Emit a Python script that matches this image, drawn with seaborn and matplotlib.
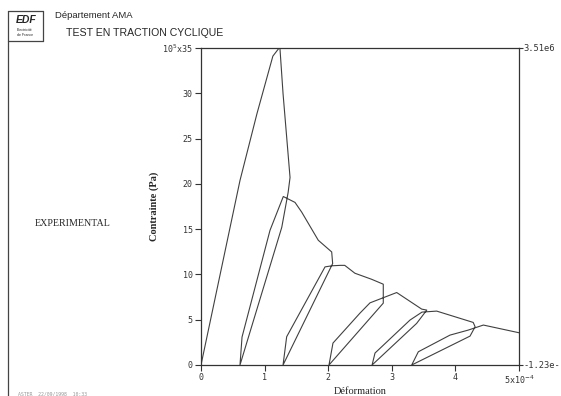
import matplotlib
matplotlib.use("Agg")
import matplotlib.pyplot as plt
from matplotlib.lines import Line2D
import seaborn as sns
import pandas as pd

# ---- data (strain in 1e-4, stress in 1e5 Pa) ----
cycle1_strain = [0.0, 0.613, 0.88, 1.13, 1.24, 1.29, 1.40, 1.37, 1.27, 0.613]
cycle1_stress = [0.0, 20.37, 27.75, 34.1, 35.1, 29.96, 20.7, 19.05, 15.2, 0.0]
cycle2_strain = [0.613, 0.645, 1.085, 1.294, 1.478, 1.583, 1.844, 2.055, 2.07, 1.29]
cycle2_stress = [0.0, 3.08, 14.87, 18.6, 17.95, 16.88, 13.77, 12.48, 11.2, 0.0]
cycle3_strain = [1.29, 1.347, 1.95, 2.055, 2.19, 2.26, 2.42, 2.68, 2.866, 2.866, 2.0125]
cycle3_stress = [0.0, 3.12, 10.83, 10.95, 11.0, 11.0, 10.13, 9.47, 8.92, 6.83, 0.0]
cycle4_strain = [2.0125, 2.075, 2.5, 2.657, 3.077, 3.47, 3.55, 3.39, 2.69]
cycle4_stress = [0.0, 2.42, 5.73, 6.86, 8.0, 6.17, 6.06, 4.59, 0.0]
cycle5_strain = [2.69, 2.736, 3.286, 3.475, 3.706, 4.28, 4.31, 4.23, 3.313]
cycle5_stress = [0.0, 1.32, 4.96, 5.84, 5.95, 4.7, 4.22, 3.19, 0.0]
cycle6_strain = [3.313, 3.417, 3.915, 4.2, 4.44, 5.0]
cycle6_stress = [0.0, 1.46, 3.3, 3.85, 4.41, 3.56]

x_ticks = [0, 1, 2, 3, 4, 5]
x_ticklabels = ["0", "1", "2", "3", "4", "5x10$^{-4}$"]
y_ticks = [0, 5, 10, 15, 20, 25, 30, 35]
y_ticklabels = ["0", "5", "10", "15", "20", "25", "30", "10$^5$x35"]
right_ticklabels = ["-1.23e-", "3.51e6"]

strains = [cycle1_strain, cycle2_strain, cycle3_strain, cycle4_strain, cycle5_strain, cycle6_strain]
stresses = [cycle1_stress, cycle2_stress, cycle3_stress, cycle4_stress, cycle5_stress, cycle6_stress]
xs, ys = [], []
for s, t in zip(strains, stresses):
    xs.extend(s)
    ys.extend(t)
df = pd.DataFrame({"Déformation": xs, "Contrainte": ys})

sns.set_style("white")
plt.rcParams["font.family"] = ["DejaVu Sans"]

W, H = 561, 396
fig = plt.figure(figsize=(W / 100, H / 100), dpi=100)
L, R, T, B = 201, 519, 47.5, 365
ax = fig.add_axes([L / W, (H - B) / H, (R - L) / W, (B - T) / H])

sns.lineplot(data=df, x="Déformation", y="Contrainte", sort=False, estimator=None,
             color="#404040", linewidth=0.8, ax=ax)
ax.set_xlim(0, 5)
ax.set_ylim(0, 35.05)

mono = "DejaVu Sans Mono"
ax.set_xticks(x_ticks)
ax.set_xticklabels(x_ticklabels, family=mono, fontsize=6)
ax.set_yticks(y_ticks)
ax.set_yticklabels(y_ticklabels, family=mono, fontsize=6)
ax.tick_params(axis="both", direction="out", length=4, width=0.8, color="#333333",
               pad=2, left=True, bottom=True, labelcolor="#333333")
ax.set_xlabel("Déformation", family="Liberation Serif", fontsize=7.5, labelpad=1)
ax.set_ylabel("Contrainte (Pa)", family="Liberation Serif", fontsize=7.5,
              fontweight="bold", labelpad=2)
for sp in ax.spines.values():
    sp.set_visible(True)
    sp.set_color("#333333")
    sp.set_linewidth(0.9)

ax2 = ax.twinx()
ax2.set_ylim(ax.get_ylim())
ax2.set_yticks([0, 35.05])
ax2.set_yticklabels(right_ticklabels, family=mono, fontsize=6.3, color="#333333")
ax2.tick_params(axis="y", direction="out", length=3, width=0.8, color="#333333", pad=0.5, right=True)
ax2.grid(False)
for sp in ax2.spines.values():
    sp.set_visible(False)

def fx(px):
    return px / W

def fy(py):
    return 1 - py / H

# frame lines
fig.add_artist(Line2D([fx(8), fx(8)], [fy(11), fy(396)], color="#444444", lw=0.9))
fig.add_artist(Line2D([fx(8), fx(43)], [fy(11), fy(11)], color="#444444", lw=0.9))
fig.add_artist(Line2D([fx(43), fx(43)], [fy(11), fy(41)], color="#444444", lw=0.9))
fig.add_artist(Line2D([fx(8), fx(43)], [fy(41), fy(41)], color="#444444", lw=0.9))

fig.text(fx(26), fy(20), "EDF", fontsize=7.5, fontweight="bold", style="italic",
         ha="center", va="center", family="Liberation Sans")
fig.text(fx(25), fy(30), "Electricité", fontsize=2.6, ha="center", va="center", family="Liberation Sans")
fig.text(fx(25), fy(35), "de France", fontsize=2.6, ha="center", va="center", family="Liberation Sans")
fig.text(fx(55), fy(16), "Département AMA", fontsize=6.8, ha="left", va="center", family="Liberation Sans")
fig.text(fx(66), fy(33), "TEST EN TRACTION CYCLIQUE", fontsize=7.6, ha="left", va="center",
         family="Liberation Sans")
fig.text(fx(35), fy(224), "EXPERIMENTAL", fontsize=7.2, ha="left", va="center", family="Liberation Serif")
fig.text(fx(18), fy(394), "ASTER  22/09/1998  10:33", fontsize=3.5, color="#999999",
         ha="left", va="center", family=mono)

fig.savefig("out.png", dpi=100, facecolor="white")
